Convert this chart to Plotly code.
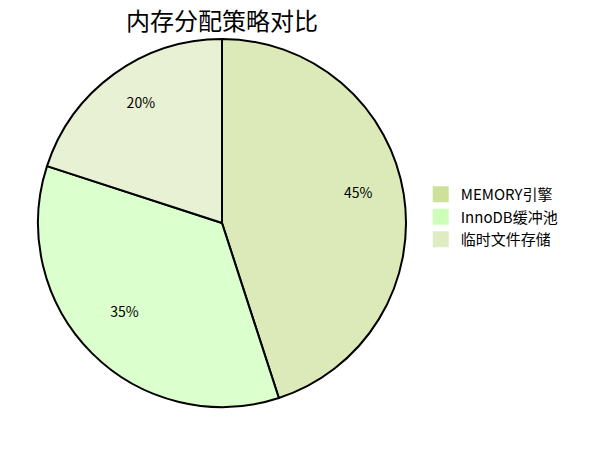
import plotly.graph_objects as go

labels = ["MEMORY引擎", "InnoDB缓冲池", "临时文件存储"]
values = [45, 35, 20]
colors = ["#cde19b", "#ccffb8", "#dfebc3"]
title = "内存分配策略对比"


def rgba(hex_color, a):
    h = hex_color.lstrip("#")
    r, g, b = int(h[0:2], 16), int(h[2:4], 16), int(h[4:6], 16)
    return f"rgba({r},{g},{b},{a})"


fig = go.Figure()

# main pie (fills + black borders, no legend)
fig.add_trace(go.Pie(
    labels=labels,
    values=values,
    sort=False,
    direction="clockwise",
    rotation=0,
    textinfo="none",
    marker=dict(colors=[rgba(c, 0.7) for c in colors], line=dict(color="black", width=2)),
    showlegend=False,
    hoverinfo="label+percent",
))

# transparent ring carrying the percentage labels
fig.add_trace(go.Pie(
    labels=labels,
    values=values,
    sort=False,
    direction="clockwise",
    rotation=0,
    hole=0.5,
    texttemplate="%{percent}<br> ",
    textposition="inside",
    insidetextorientation="horizontal",
    textfont=dict(color="black", size=14),
    marker=dict(colors=["rgba(0,0,0,0)"] * len(values), line=dict(width=0)),
    showlegend=False,
    hoverinfo="skip",
))

# legend entries
for lab, col in zip(labels, colors):
    fig.add_trace(go.Scatter(
        x=[None], y=[None], mode="markers", name=lab,
        marker=dict(symbol="square", size=16, color=col, line=dict(width=0)),
    ))

fig.update_layout(
    width=616, height=450,
    paper_bgcolor="white", plot_bgcolor="white",
    font=dict(family="Noto Sans CJK SC, sans-serif", color="black"),
    title=dict(text=title, x=214 / 616, xanchor="center", y=1 - 14 / 450, yanchor="middle",
               font=dict(size=24, color="black")),
    margin=dict(l=30, r=218, t=31, b=51),
    xaxis=dict(visible=False),
    yaxis=dict(visible=False),
    legend=dict(x=1.04, y=0.516, xanchor="left", yanchor="middle",
                font=dict(size=15, color="black"), traceorder="normal",
                itemsizing="trace"),
    showlegend=True,
)

fig.write_html("out.html")
